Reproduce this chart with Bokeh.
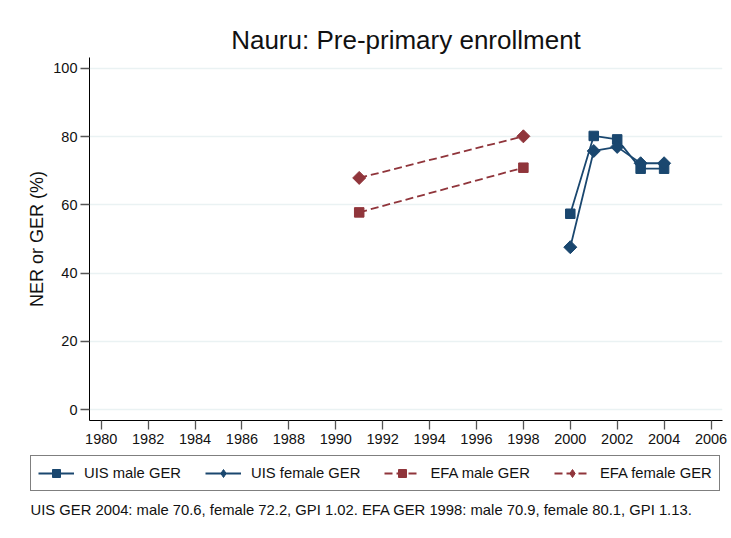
import numpy as np
from bokeh.plotting import figure
from bokeh.layouts import column, row
from bokeh.models import Legend, LegendItem, Range1d, FixedTicker, Title, Label
from bokeh.embed import file_html
from bokeh.resources import INLINE

# ---- data ----
years_uis = [2000, 2001, 2002, 2003, 2004]
uis_male_ger = [57.4, 80.2, 79.2, 70.6, 70.6]
uis_female_ger = [47.6, 75.8, 77.0, 72.2, 72.2]
years_efa = [1991, 1998]
efa_male_ger = [57.8, 70.9]
efa_female_ger = [67.9, 80.1]

x_ticks = list(range(1980, 2007, 2))
y_ticks = [0, 20, 40, 60, 80, 100]

title_text = "Nauru: Pre-primary enrollment"
y_label = "NER or GER (%)"
note_text = ("UIS GER 2004: male 70.6, female 72.2, GPI 1.02. "
             "EFA GER 1998: male 70.9, female 80.1, GPI 1.13.")
legend_labels = ["UIS male GER", "UIS female GER", "EFA male GER", "EFA female GER"]

NAVY = "#1a476f"
MAROON = "#90353b"
FONT = "Liberation Sans"

W = 731
H1, H2 = 455, 83
FRAME_W, FRAME_H = 633, 363
LEFT, TOP = 89, 57

# ---------------- main chart ----------------
p = figure(width=W, height=H1, output_backend="svg", toolbar_location=None,
           x_range=Range1d(1979.5, 2006.49), y_range=Range1d(-3.2, 103.2),
           min_border_left=LEFT, min_border_right=W - LEFT - FRAME_W,
           min_border_top=TOP, min_border_bottom=H1 - TOP - FRAME_H)
p.outline_line_color = None
p.background_fill_color = "white"
p.border_fill_color = "white"

p.title = Title(text=title_text, align="center", text_font=FONT,
                text_font_size="26px", text_font_style="normal",
                text_color="#111111", standoff=5)

p.xgrid.grid_line_color = None
p.ygrid.grid_line_color = "#eaf2f3"
p.ygrid.grid_line_width = 1.5
p.ygrid.ticker = FixedTicker(ticks=y_ticks)

for ax in (p.xaxis[0], p.yaxis[0]):
    ax.axis_line_color = "black"
    ax.axis_line_width = 1
    ax.major_tick_line_color = "#555555"
    ax.major_tick_line_width = 1.3
    ax.major_tick_out = 9
    ax.major_tick_in = 0
    ax.minor_tick_line_color = None
    ax.major_label_text_font = FONT
    ax.major_label_text_font_size = "14.5px"
    ax.major_label_text_color = "#111111"
p.xaxis.ticker = FixedTicker(ticks=x_ticks)
p.yaxis.ticker = FixedTicker(ticks=y_ticks)
p.xaxis.major_label_standoff = 4
p.yaxis.major_label_standoff = 3
p.yaxis.axis_label = y_label
p.yaxis.axis_label_text_font = FONT
p.yaxis.axis_label_text_font_size = "18px"
p.yaxis.axis_label_text_font_style = "normal"
p.yaxis.axis_label_text_color = "#111111"
p.yaxis.axis_label_standoff = 3


def draw_series(fig, diamond_marker, diamond_size, diamond_angle):
    r = []
    r.append((fig.line(years_uis, uis_male_ger, line_color=NAVY, line_width=1.8),
              fig.scatter(years_uis, uis_male_ger, marker="square", size=9.5,
                          fill_color=NAVY, line_color=NAVY)))
    r.append((fig.line(years_uis, uis_female_ger, line_color=NAVY, line_width=1.8),
              fig.scatter(years_uis, uis_female_ger, marker=diamond_marker,
                          size=diamond_size, angle=diamond_angle,
                          fill_color=NAVY, line_color=NAVY)))
    r.append((fig.line(years_efa, efa_male_ger, line_color=MAROON, line_width=1.8,
                       line_dash="8 4"),
              fig.scatter(years_efa, efa_male_ger, marker="square", size=9.5,
                          fill_color=MAROON, line_color=MAROON)))
    r.append((fig.line(years_efa, efa_female_ger, line_color=MAROON, line_width=1.8,
                       line_dash="8 4"),
              fig.scatter(years_efa, efa_female_ger, marker=diamond_marker,
                          size=diamond_size, angle=diamond_angle,
                          fill_color=MAROON, line_color=MAROON)))
    return r


draw_series(p, "square", 9.2, np.pi / 4)

# ---------------- legend + note strip ----------------
q = figure(width=W, height=H2, output_backend="svg", toolbar_location=None,
           x_range=Range1d(0, 1), y_range=Range1d(0, 1),
           x_axis_type=None, y_axis_type=None,
           min_border_left=0, min_border_right=0, min_border_top=0,
           min_border_bottom=0)
q.outline_line_color = None
q.xgrid.grid_line_color = None
q.ygrid.grid_line_color = None
q.background_fill_color = "white"
q.border_fill_color = "white"

# same series/styles; their data lies outside this strip's range, only the keys show
legend_renderers = draw_series(q, "diamond", 17, 0)
items = [LegendItem(label=lab, renderers=list(rr))
         for lab, rr in zip(legend_labels, legend_renderers)]
legend = Legend(items=items, orientation="horizontal", location=(30, H2 - 2 - 34),
                glyph_width=36, glyph_height=20, label_height=20, label_width=0,
                label_standoff=10, spacing=24, padding=7, margin=0,
                label_text_font=FONT, label_text_font_size="14.8px",
                label_text_color="#111111",
                border_line_color="black", border_line_width=1,
                background_fill_color="white", background_fill_alpha=1)
q.add_layout(legend, "center")

note = Label(x=30, y=H2 - 54, x_units="screen", y_units="screen",
             text=note_text, text_align="left", text_baseline="middle",
             text_font=FONT, text_font_size="14.8px", text_color="#111111")
q.add_layout(note)

layout = column(p, row(q), spacing=0)
open("out.html", "w").write(file_html(layout, INLINE))
